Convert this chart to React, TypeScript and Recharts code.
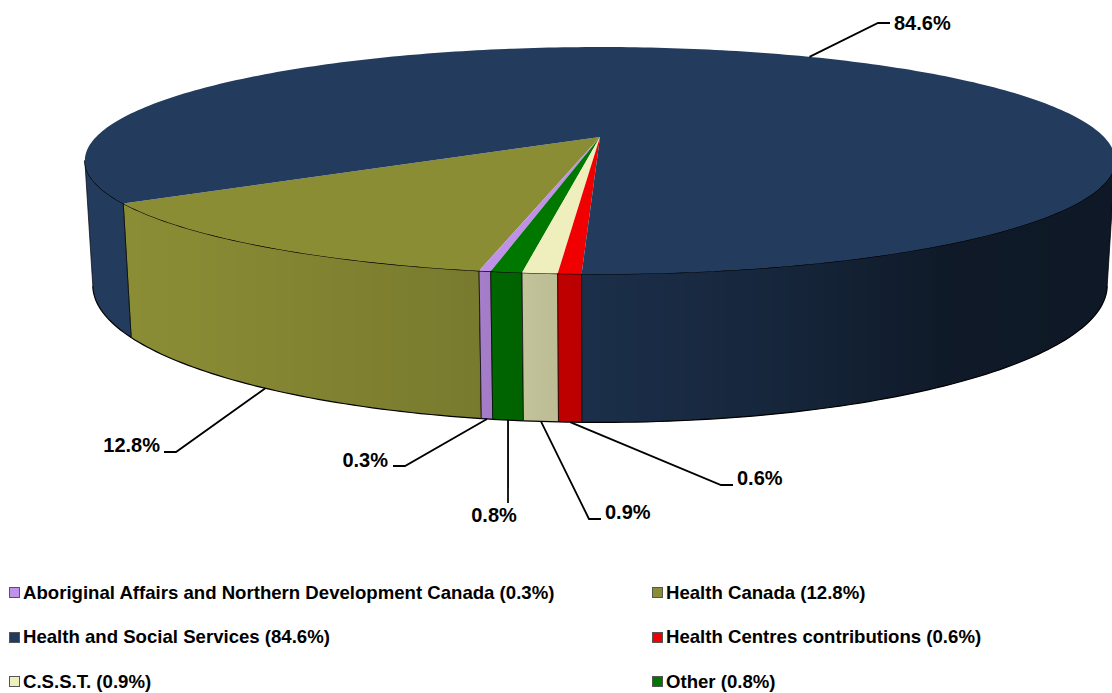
import React from 'react';
import { PieChart, Pie, Cell, Legend } from 'recharts';

// slices in drawing order, counter-clockwise from the left of the disc
const sliceNames = ['Health Canada', 'Aboriginal Affairs and Northern Development Canada', 'Other', 'C.S.S.T.', 'Health Centres contributions', 'Health and Social Services'];
const sliceValues = [12.8, 0.3, 0.8, 0.9, 0.6, 84.6];
const sliceColors = ['#8b8d35', '#c091e9', '#007800', '#efefbd', '#f00000', '#233c5e'];

// legend reads row by row, in another order than the slices
const legendOrder = [1, 0, 5, 4, 3, 2];

const data = sliceNames.map((name, i) => ({ name, value: sliceValues[i], color: sliceColors[i] }));

const FONT = '"Liberation Sans", Arial, sans-serif';

// perspective of the disc
const TILT = 0.207; // depth foreshortening
const SQUASH = 108.6; // vertical radius
const THICK = 122; // wall height
const BOTTOM_DEPTH = 0.015;
const SILHOUETTE = (Math.asin(TILT) * 180) / Math.PI;

const project = (cx: number, cy: number, r: number, deg: number, z: number) => {
  const a = (deg * Math.PI) / 180;
  const u = Math.cos(a);
  const v = -Math.sin(a);
  const w = 1 - TILT * v + BOTTOM_DEPTH * z;
  return [cx + (r * u) / w, cy + (SQUASH * v + THICK * z) / w];
};

const sweep = (from: number, to: number) => {
  const out: number[] = [];
  const steps = Math.max(1, Math.ceil(Math.abs(to - from)));
  for (let i = 0; i <= steps; i++) out.push(from + ((to - from) * i) / steps);
  return out;
};

const toPath = (pts: number[][]) => 'M' + pts.map((p) => `${p[0].toFixed(2)},${p[1].toFixed(2)}`).join('L');

const Slice3D = (props: any) => {
  const { cx, cy, outerRadius, startAngle, endAngle, fill } = props;
  const from = Math.min(startAngle, endAngle);
  const to = Math.max(startAngle, endAngle);
  const at = (deg: number, z: number) => project(cx, cy, outerRadius, deg, z);

  // walls only show between the two silhouette points of the front half
  const walls: number[][] = [];
  [0, 360].forEach((turn) => {
    const a = Math.max(from, 180 + SILHOUETTE + turn);
    const b = Math.min(to, 360 - SILHOUETTE + turn);
    if (b > a) walls.push([a, b]);
  });

  return (
    <g>
      {walls.map(([a, b]) => {
        const top = sweep(a, b).map((d) => at(d, 0));
        const bottom = sweep(a, b).map((d) => at(d, 1));
        const outline = toPath([...top, ...[...bottom].reverse()]) + 'Z';
        return (
          <g key={a}>
            <path d={outline} fill={fill} />
            <path d={outline} fill="url(#wallShade)" />
            <path d={toPath(bottom)} fill="none" stroke="#000" strokeWidth={1.2} />
            <path d={toPath(top)} fill="none" stroke="#000" strokeWidth={1.2} />
            <path d={toPath([at(a, 0), at(a, 1)])} stroke="#000" strokeOpacity={0.7} strokeWidth={1} />
            <path d={toPath([at(b, 0), at(b, 1)])} stroke="#000" strokeOpacity={0.7} strokeWidth={1} />
          </g>
        );
      })}
      <path d={toPath([[cx, cy], ...sweep(from, to).map((d) => at(d, 0))]) + 'Z'} fill={fill} />
    </g>
  );
};

// where each leader bends and where its percentage sits
const labelSpots: Record<string, { bend: number[]; end: number[]; text: number[]; anchor: string; onTop?: boolean }> = {
  'Health Canada': { bend: [176, 452], end: [164, 452], text: [160, 452], anchor: 'end' },
  'Aboriginal Affairs and Northern Development Canada': { bend: [405, 466], end: [393, 466], text: [388, 467], anchor: 'end' },
  Other: { bend: [508, 503], end: [508, 503], text: [494, 522], anchor: 'middle' },
  'C.S.S.T.': { bend: [589, 519], end: [601, 519], text: [605, 519], anchor: 'start' },
  'Health Centres contributions': { bend: [721, 485], end: [733, 485], text: [737, 485], anchor: 'start' },
  'Health and Social Services': { bend: [878, 23], end: [890, 23], text: [894, 30], anchor: 'start', onTop: true },
};

const SliceLabel = (props: any) => {
  const { cx, cy, outerRadius, midAngle, name, value } = props;
  const spot = labelSpots[name];
  if (!spot) return null;
  const start = project(cx, cy, outerRadius, midAngle < 0 ? midAngle + 360 : midAngle, spot.onTop ? 0 : 1);
  return (
    <g>
      <path d={toPath([start, spot.bend, spot.end])} fill="none" stroke="#000" strokeWidth={1.8} />
      <text x={spot.text[0]} y={spot.text[1]} textAnchor={spot.anchor} fontFamily={FONT} fontWeight="bold" fontSize={20} fill="#000">
        {`${value}%`}
      </text>
    </g>
  );
};

const LegendGrid = () => (
  <div style={{ display: 'grid', gridTemplateColumns: '643px 469px', gridAutoRows: '44.5px', fontFamily: FONT, fontWeight: 'bold', fontSize: 18.6, color: '#000', paddingLeft: 9 }}>
    {legendOrder.map((i) => (
      <div key={sliceNames[i]} style={{ display: 'flex', alignItems: 'center', whiteSpace: 'nowrap', height: 20 }}>
        <span style={{ width: 9, height: 9, background: sliceColors[i], border: '1px solid #555', marginRight: 3, flex: 'none' }} />
        {`${sliceNames[i]} (${sliceValues[i]}%)`}
      </div>
    ))}
  </div>
);

export default function App() {
  return (
    <div style={{ position: 'absolute', left: 0, top: 0, width: 1112, height: 693, overflow: 'hidden', background: '#fff' }}>
      <PieChart width={1112} height={693} margin={{ top: 0, right: 0, bottom: 0, left: 0 }}>
        <defs>
          <linearGradient id="wallShade" gradientUnits="userSpaceOnUse" x1={0} y1={0} x2={1112} y2={0}>
            <stop offset={0.117} stopColor="#000" stopOpacity={0} />
            <stop offset={0.36} stopColor="#000" stopOpacity={0.1} />
            <stop offset={0.432} stopColor="#000" stopOpacity={0.14} />
            <stop offset={0.486} stopColor="#000" stopOpacity={0.2} />
            <stop offset={0.54} stopColor="#000" stopOpacity={0.23} />
            <stop offset={0.72} stopColor="#000" stopOpacity={0.4} />
            <stop offset={0.86} stopColor="#000" stopOpacity={0.58} />
            <stop offset={1} stopColor="#000" stopOpacity={0.6} />
          </linearGradient>
        </defs>
        <Pie
          data={data}
          dataKey="value"
          nameKey="name"
          cx={600}
          cy={137}
          innerRadius={0}
          outerRadius={504}
          startAngle={212.9}
          endAngle={572.9}
          stroke="none"
          shape={Slice3D}
          label={SliceLabel}
          labelLine={false}
          isAnimationActive={false}
        >
          {data.map((d) => (
            <Cell key={d.name} fill={d.color} />
          ))}
        </Pie>
        <Legend content={<LegendGrid />} layout="horizontal" verticalAlign="bottom" wrapperStyle={{ left: 0, top: 582.5, bottom: 'auto', width: 1112 }} />
      </PieChart>
    </div>
  );
}
